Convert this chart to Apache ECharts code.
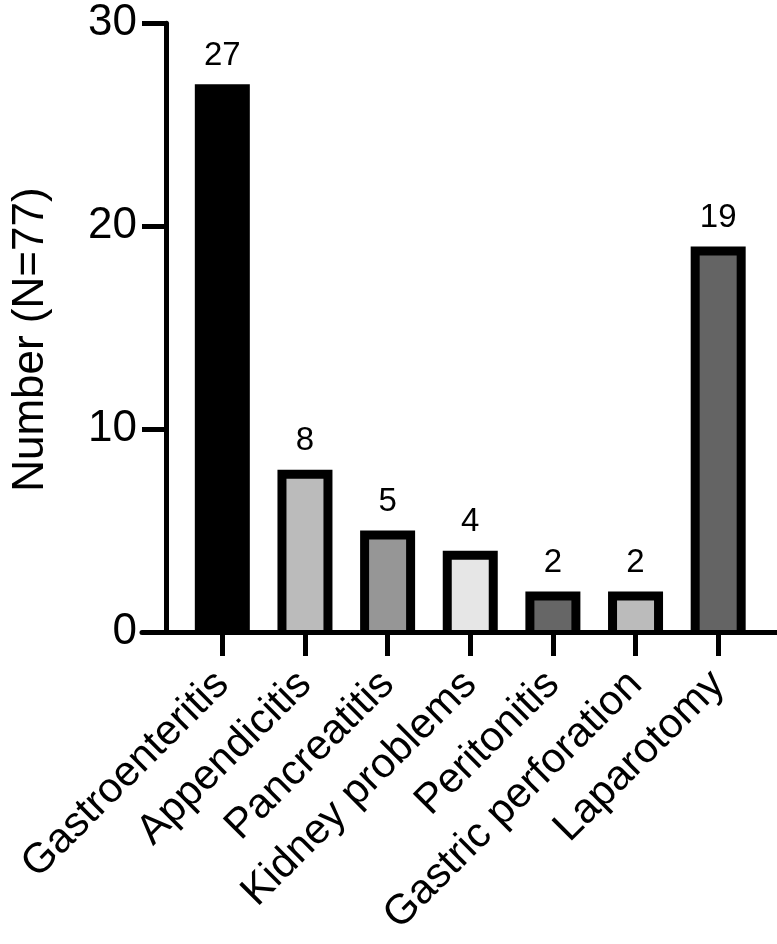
<!DOCTYPE html>
<html>
<head>
<meta charset="utf-8">
<script src="https://cdn.jsdelivr.net/npm/echarts@6/dist/echarts.min.js"></script>
<style>
html,body{margin:0;padding:0;background:#fff;}
#chart{width:777px;height:944px;}
</style>
</head>
<body>
<div id="chart"></div>
<script>
const categories = ['Gastroenteritis','Appendicitis','Pancreatitis','Kidney problems','Peritonitis','Gastric perforation','Laparotomy'];
const values = [27, 8, 5, 4, 2, 2, 19];
const barColors = ['#000000','#bbbbbb','#969696','#e6e6e6','#666666','#bbbbbb','#646464'];
const yTicks = [0, 10, 20, 30];

const FONT = 'Liberation Sans, Arial, Helvetica, sans-serif';
const chart = echarts.init(document.getElementById('chart'), null, {renderer:'canvas'});

const BAR_W = 55, BORDER = 9, LABEL_GAP = 12;

function renderBar(params, api) {
  const i = api.value(0), v = api.value(1);
  const top = api.coord([i, v]);
  const base = api.coord([i, 0]);
  const h = base[1] - top[1];
  return {
    type: 'group',
    children: [
      {type: 'rect', shape: {x: top[0] - BAR_W / 2, y: top[1], width: BAR_W, height: h}, style: {fill: '#000'}},
      {type: 'rect', shape: {x: top[0] - BAR_W / 2 + BORDER, y: top[1] + BORDER, width: BAR_W - 2 * BORDER, height: Math.max(0, h - BORDER)}, style: {fill: barColors[params.dataIndex]}},
      {type: 'text', style: {text: String(v), x: top[0], y: top[1] - LABEL_GAP, align: 'center', verticalAlign: 'bottom', font: '33px ' + FONT, fill: '#000'}}
    ]
  };
}

const option = {
  animation: false,
  backgroundColor: '#ffffff',
  textStyle: {fontFamily: FONT, color: '#000'},
  grid: [
    {left: 181, right: 17.5, top: 23.3, bottom: 312, containLabel: false},
    {left: 142, right: 0, top: 23.3, bottom: 312, containLabel: false}
  ],
  xAxis: [
    {
      type: 'category', gridIndex: 0, data: categories,
      axisLine: {show: false},
      axisTick: {show: true, alignWithLabel: true, length: 24, lineStyle: {color: '#000', width: 5}},
      axisLabel: {rotate: 45, fontSize: 42, color: '#000', fontFamily: FONT, margin: 46, interval: 0}
    },
    {
      type: 'value', gridIndex: 1, min: 0, max: 1, z: 10,
      axisLine: {show: true, lineStyle: {color: '#000', width: 5}},
      axisTick: {show: false}, axisLabel: {show: false}, splitLine: {show: false}
    }
  ],
  yAxis: [
    {
      type: 'value', gridIndex: 0, min: yTicks[0], max: yTicks[yTicks.length-1], interval: 10,
      offset: 15,
      name: 'Number (N=77)', nameLocation: 'middle', nameRotate: 90, nameGap: 113,
      nameTextStyle: {fontSize: 44, color: '#000', fontFamily: FONT, padding: [0, 24, 0, 0]},
      axisLine: {show: true, lineStyle: {color: '#000', width: 5}},
      axisTick: {show: true, inside: false, length: 24, lineStyle: {color: '#000', width: 5}},
      axisLabel: {fontSize: 44, color: '#000', fontFamily: FONT, margin: 29},
      splitLine: {show: false}
    },
    {
      type: 'value', gridIndex: 1, min: 0, max: 1, show: false
    }
  ],
  series: [
    {
      type: 'custom', xAxisIndex: 0, yAxisIndex: 0,
      renderItem: renderBar,
      encode: {x: 0, y: 1},
      data: values.map((v, i) => [i, v])
    }
  ]
};
chart.setOption(option);
</script>
</body>
</html>
